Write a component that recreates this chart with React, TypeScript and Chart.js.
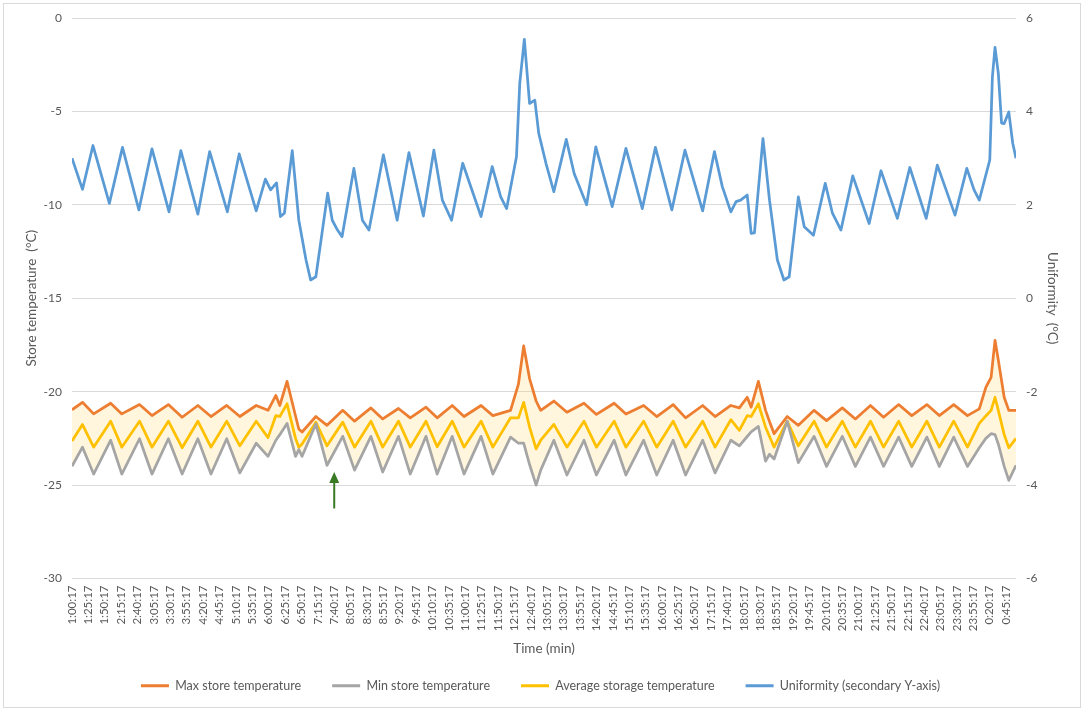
import { useEffect, useRef } from "react";
import { Chart, registerables } from "chart.js";

Chart.register(...registerables);

// x axis tick labels, one every 25 minutes starting at 1:00:17
const timeLabels = [
  "1:00:17", "1:25:17", "1:50:17", "2:15:17", "2:40:17", "3:05:17", "3:30:17", "3:55:17",
  "4:20:17", "4:45:17", "5:10:17", "5:35:17", "6:00:17", "6:25:17", "6:50:17", "7:15:17",
  "7:40:17", "8:05:17", "8:30:17", "8:55:17", "9:20:17", "9:45:17", "10:10:17", "10:35:17",
  "11:00:17", "11:25:17", "11:50:17", "12:15:17", "12:40:17", "13:05:17", "13:30:17", "13:55:17",
  "14:20:17", "14:45:17", "15:10:17", "15:35:17", "16:00:17", "16:25:17", "16:50:17", "17:15:17",
  "17:40:17", "18:05:17", "18:30:17", "18:55:17", "19:20:17", "19:45:17", "20:10:17", "20:35:17",
  "21:00:17", "21:25:17", "21:50:17", "22:15:17", "22:40:17", "23:05:17", "23:30:17", "23:55:17",
  "0:20:17", "0:45:17",
];
const tickStep = 25; // minutes between labels
const totalMinutes = 1440;

// store temperatures (minutes after 1:00:17)
const tempTimes = [
  0, 16, 33, 59, 76, 103, 122, 147, 168, 192, 212, 236, 256, 281, 299, 311, 317, 328, 341, 346,
  351, 372, 389, 413, 431, 456, 474, 498, 516, 540, 557, 580, 598, 624, 642, 669, 681, 689, 698, 708,
  715, 735, 755, 781, 800, 827, 845, 872, 892, 917, 936, 962, 981, 1005, 1018, 1030, 1036, 1047, 1058, 1064,
  1071, 1091, 1108, 1132, 1151, 1175, 1195, 1218, 1238, 1261, 1281, 1304, 1323, 1345, 1366, 1384, 1394, 1402, 1408, 1413,
  1422, 1429, 1440,
];
const maxTemps = [
  -20.97, -20.57, -21.19, -20.62, -21.19, -20.69, -21.28, -20.69, -21.37, -20.74, -21.33, -20.74, -21.33, -20.74, -21.0, -20.2, -20.74, -19.45, -21.3, -22.0,
  -22.16, -21.33, -21.8, -21.0, -21.58, -20.87, -21.46, -20.9, -21.4, -20.83, -21.4, -20.74, -21.33, -20.74, -21.28, -21.0, -19.6, -17.55, -19.3, -20.5,
  -21.0, -20.5, -21.1, -20.62, -21.22, -20.62, -21.2, -20.74, -21.33, -20.69, -21.4, -20.74, -21.33, -20.74, -20.87, -20.3, -20.83, -19.45, -21.0, -21.6,
  -22.25, -21.33, -21.8, -21.0, -21.55, -20.87, -21.46, -20.74, -21.37, -20.69, -21.28, -20.69, -21.28, -20.69, -21.28, -20.92, -19.77, -19.24, -17.25, -18.3,
  -20.3, -21.0, -21.0,
];
const minTemps = [
  -23.99, -22.97, -24.41, -22.6, -24.41, -22.52, -24.41, -22.52, -24.41, -22.52, -24.41, -22.52, -24.35, -22.76, -23.46, -22.6, -22.3, -21.7, -23.46, -23.1,
  -23.46, -21.72, -23.94, -22.39, -24.2, -22.39, -24.3, -22.39, -24.41, -22.39, -24.41, -22.39, -24.41, -22.39, -24.41, -22.43, -22.76, -22.76, -23.9, -25.0,
  -24.2, -22.6, -24.46, -22.6, -24.46, -22.6, -24.46, -22.6, -24.46, -22.6, -24.46, -22.6, -24.35, -22.6, -22.9, -22.4, -22.15, -21.86, -23.72, -23.35,
  -23.6, -21.58, -23.8, -22.39, -24.0, -22.39, -24.0, -22.43, -24.0, -22.43, -24.0, -22.43, -24.0, -22.43, -24.0, -23.0, -22.5, -22.25, -22.3, -22.8,
  -24.0, -24.75, -23.94,
];
const avgTemps = [
  -22.64, -21.76, -22.97, -21.58, -22.97, -21.58, -22.97, -21.58, -23.0, -21.58, -22.97, -21.58, -22.9, -21.58, -22.46, -21.28, -21.33, -20.65, -22.5, -22.97,
  -22.8, -21.63, -22.9, -21.63, -22.97, -21.58, -22.97, -21.58, -22.97, -21.58, -22.95, -21.58, -22.97, -21.58, -22.97, -21.4, -21.4, -20.57, -21.9, -23.06,
  -22.6, -21.75, -22.97, -21.58, -22.97, -21.58, -22.97, -21.58, -22.97, -21.58, -22.97, -21.58, -22.97, -21.5, -22.07, -21.28, -21.33, -20.65, -21.9, -22.4,
  -22.97, -21.58, -22.9, -21.58, -22.97, -21.58, -22.97, -21.58, -22.97, -21.58, -22.97, -21.58, -22.97, -21.58, -22.97, -21.7, -21.3, -21.0, -20.3, -21.0,
  -22.3, -23.0, -22.5,
];

// uniformity on the secondary axis
const uniformityTimes = [
  0, 16, 32, 57, 77, 102, 122, 148, 166, 192, 210, 237, 255, 281, 295, 303, 312, 318, 324, 336,
  346, 357, 364, 372, 390, 397, 405, 412, 430, 443, 453, 475, 496, 514, 536, 552, 565, 579, 596, 624,
  641, 654, 663, 678, 683, 690, 698, 706, 712, 723, 735, 754, 766, 785, 799, 824, 845, 870, 890, 915,
  935, 962, 980, 992, 1005, 1013, 1020, 1030, 1036, 1041, 1054, 1064, 1076, 1086, 1094, 1108, 1117, 1131, 1149, 1160,
  1173, 1191, 1216, 1234, 1259, 1278, 1303, 1320, 1347, 1365, 1376, 1384, 1400, 1404, 1408, 1413, 1418, 1422, 1429, 1435,
  1440,
];
const uniformity = [
  3.0, 2.33, 3.27, 2.03, 3.23, 1.89, 3.2, 1.85, 3.16, 1.8, 3.14, 1.85, 3.09, 1.87, 2.55, 2.32, 2.47, 1.75, 1.82, 3.16,
  1.67, 0.82, 0.39, 0.46, 2.25, 1.67, 1.46, 1.32, 2.78, 1.67, 1.46, 3.07, 1.67, 3.12, 1.76, 3.17, 2.1, 1.67, 2.89, 1.75,
  2.82, 2.17, 1.92, 3.03, 4.6, 5.54, 4.17, 4.24, 3.53, 2.89, 2.28, 3.4, 2.67, 2.0, 3.24, 1.96, 3.21, 1.92, 3.23, 1.89,
  3.17, 1.87, 3.14, 2.39, 1.85, 2.07, 2.1, 2.21, 1.39, 1.4, 3.42, 2.1, 0.82, 0.39, 0.46, 2.17, 1.53, 1.35, 2.46, 1.82,
  1.46, 2.62, 1.6, 2.73, 1.71, 2.8, 1.71, 2.85, 1.78, 2.78, 2.32, 2.1, 2.96, 4.74, 5.37, 4.82, 3.75, 3.74, 3.99, 3.32,
  3.0,
];

// green arrow annotation (time in minutes, temperatures in °C)
const arrowTime = 400;
const arrowTip = -24.3;
const arrowBase = -26.25;

const textColor = "#595959";
const fontFamily = "Lato, 'DejaVu Sans', sans-serif";

const arrowPlugin = {
  id: "greenArrow",
  afterDatasetsDraw(chart: Chart) {
    const { ctx } = chart;
    const xs = chart.scales.x;
    const ys = chart.scales.y;
    const px = xs.getPixelForValue(arrowTime);
    const tip = ys.getPixelForValue(arrowTip);
    const base = ys.getPixelForValue(arrowBase);
    ctx.save();
    ctx.strokeStyle = "#3a7a24";
    ctx.fillStyle = "#3a7a24";
    ctx.lineWidth = 2;
    ctx.beginPath();
    ctx.moveTo(px, base);
    ctx.lineTo(px, tip + 8);
    ctx.stroke();
    ctx.beginPath();
    ctx.moveTo(px, tip);
    ctx.lineTo(px - 5, tip + 11);
    ctx.lineTo(px + 5, tip + 11);
    ctx.closePath();
    ctx.fill();
    ctx.restore();
  },
};

const toPoints = (times: number[], values: number[]) => times.map((t, i) => ({ x: t, y: values[i] }));

export default function App() {
  const canvasRef = useRef<HTMLCanvasElement | null>(null);

  useEffect(() => {
    if (!canvasRef.current) return;
    const titleFont = { family: fontFamily, size: 13.5 };
    const chart = new Chart(canvasRef.current, {
      type: "line",
      data: {
        datasets: [
          {
            label: "Max store temperature",
            data: toPoints(tempTimes, maxTemps),
            borderColor: "#ED7D31",
            backgroundColor: "rgba(255, 214, 102, 0.22)",
            borderWidth: 2.75,
            fill: { target: 1 },
            yAxisID: "y",
          },
          {
            label: "Min store temperature",
            data: toPoints(tempTimes, minTemps),
            borderColor: "#A5A5A5",
            backgroundColor: "#A5A5A5",
            borderWidth: 2.75,
            fill: false,
            yAxisID: "y",
          },
          {
            label: "Average storage temperature",
            data: toPoints(tempTimes, avgTemps),
            borderColor: "#FFC000",
            backgroundColor: "#FFC000",
            borderWidth: 2.75,
            fill: false,
            yAxisID: "y",
          },
          {
            label: "Uniformity (secondary Y-axis)",
            data: toPoints(uniformityTimes, uniformity),
            borderColor: "#5B9BD5",
            backgroundColor: "#5B9BD5",
            borderWidth: 2.75,
            fill: false,
            yAxisID: "y2",
          },
        ],
      },
      options: {
        responsive: false,
        animation: false,
        layout: { padding: { left: 20, right: 23, top: 18, bottom: 9 } },
        elements: { point: { radius: 0 }, line: { tension: 0, borderJoinStyle: "round" } },
        scales: {
          x: {
            type: "linear",
            min: 0,
            max: totalMinutes,
            grid: { display: false, drawTicks: false },
            border: { display: false },
            ticks: {
              stepSize: tickStep,
              includeBounds: false,
              autoSkip: false,
              minRotation: 90,
              maxRotation: 90,
              padding: 7,
              color: textColor,
              font: { family: fontFamily, size: 11.5 },
              callback: (value) => timeLabels[Math.round(Number(value) / tickStep)] ?? "",
            },
            title: {
              display: true,
              text: "Time (min)",
              color: textColor,
              font: titleFont,
              padding: { top: 0, bottom: -8 },
            },
            afterFit: (s) => {
              s.height = 70;
            },
          },
          y: {
            position: "left",
            min: -30,
            max: 0,
            grid: { color: "#d9d9d9", drawTicks: false },
            border: { display: false },
            ticks: { stepSize: 5, padding: 10, color: textColor, font: { family: fontFamily, size: 12 } },
            title: {
              display: true,
              text: "Store temperature  (°C)",
              color: textColor,
              font: titleFont,
              padding: { top: 4, bottom: 0 },
            },
            afterFit: (s) => {
              s.width = 52;
            },
          },
          y2: {
            position: "right",
            min: -6,
            max: 6,
            grid: { display: false, drawTicks: false },
            border: { display: false },
            ticks: { stepSize: 2, padding: 10, color: textColor, font: { family: fontFamily, size: 12 } },
            title: {
              display: true,
              text: "Uniformity  (°C)",
              color: textColor,
              font: titleFont,
              padding: { top: 1, bottom: 0 },
            },
            afterFit: (s) => {
              s.width = 45;
            },
          },
        },
        plugins: {
          filler: { drawTime: "beforeDatasetsDraw" },
          tooltip: { enabled: false },
          legend: {
            position: "bottom",
            labels: {
              boxWidth: 28,
              boxHeight: 3,
              padding: 31,
              color: textColor,
              font: { family: fontFamily, size: 12.5 },
              generateLabels: (c) =>
                Chart.defaults.plugins.legend.labels.generateLabels(c).map((item) => ({
                  ...item,
                  fillStyle: item.strokeStyle,
                  lineWidth: 0,
                })),
            },
          },
        },
      },
      plugins: [arrowPlugin],
    });

    return () => {
      chart.destroy();
    };
  }, []);

  return (
    <div style={{ position: "fixed", left: 0, top: 0, width: 1084, height: 711, background: "#fff" }}>
      <div
        style={{
          position: "absolute",
          left: 3,
          top: 3,
          width: 1078,
          height: 705,
          boxSizing: "border-box",
          border: "1px solid #d9d9d9",
        }}
      />
      <canvas ref={canvasRef} width={1084} height={711} style={{ position: "absolute", left: 0, top: 0 }} />
    </div>
  );
}
